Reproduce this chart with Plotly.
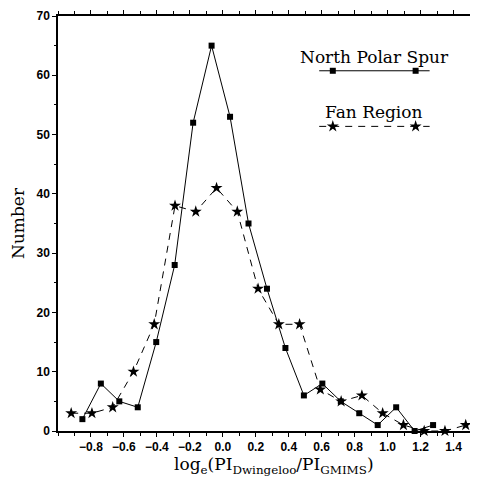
import plotly.graph_objects as go

# ---- data ----
nps_x = [-0.852, -0.740, -0.628, -0.516, -0.404, -0.292, -0.180, -0.068, 0.044, 0.156,
         0.268, 0.380, 0.492, 0.604, 0.716, 0.828, 0.940, 1.052, 1.164, 1.276]
nps_y = [2, 8, 5, 4, 15, 28, 52, 65, 53, 35, 24, 14, 6, 8, 5, 3, 1, 4, 0, 1]

fan_x = [-0.920, -0.794, -0.668, -0.542, -0.416, -0.290, -0.164, -0.038, 0.088, 0.214,
         0.340, 0.466, 0.592, 0.718, 0.844, 0.970, 1.096, 1.222, 1.348, 1.474]
fan_y = [3, 3, 4, 10, 18, 38, 37, 41, 37, 24, 18, 18, 7, 5, 6, 3, 1, 0, 0, 1]

x_tickvals = [-0.8, -0.6, -0.4, -0.2, 0.0, 0.2, 0.4, 0.6, 0.8, 1.0, 1.2, 1.4]
x_ticklabels = ["\u22120.8", "\u22120.6", "\u22120.4", "\u22120.2", "0.0", "0.2", "0.4",
                "0.6", "0.8", "1.0", "1.2", "1.4"]
y_tickvals = [0, 10, 20, 30, 40, 50, 60, 70]
y_ticklabels = ["0", "10", "20", "30", "40", "50", "60", "70"]

series_names = ["North Polar Spur", "Fan Region"]
x_title = "log<sub>e</sub>(PI<sub>Dwingeloo</sub>/PI<sub>GMIMS</sub>)"
y_title = "Number"

# ---- styles ----
SERIF = "DejaVu Serif"
TICKFONT = dict(family="Liberation Sans", size=12, color="black")
DASH = "7px,6px"
SQ_SIZE = 6
STAR_SIZE = 9

fig = go.Figure()

fig.add_trace(go.Scatter(
    x=nps_x, y=nps_y, mode="lines+markers", name=series_names[0],
    line=dict(color="black", width=1),
    marker=dict(symbol="square", size=SQ_SIZE, color="black"),
    showlegend=False, cliponaxis=False))

fig.add_trace(go.Scatter(
    x=fan_x, y=fan_y, mode="lines+markers", name=series_names[1],
    line=dict(color="black", width=1, dash=DASH),
    marker=dict(symbol="star", size=STAR_SIZE, color="black"),
    showlegend=False, cliponaxis=False))

# ---- hand-drawn legend on an overlay axis in [0,1] units ----
leg_line_x = [0.634, 0.902]
leg_mark_x = [0.667, 0.868]
leg_y = [0.868, 0.734]
leg_text_y = [0.902, 0.768]
leg_text_x = 0.768

fig.add_trace(go.Scatter(
    x=leg_line_x, y=[leg_y[0]] * 2, xaxis="x2", yaxis="y2", mode="lines",
    line=dict(color="black", width=1), showlegend=False, hoverinfo="skip"))
fig.add_trace(go.Scatter(
    x=leg_mark_x, y=[leg_y[0]] * 2, xaxis="x2", yaxis="y2", mode="markers",
    marker=dict(symbol="square", size=SQ_SIZE, color="black"), showlegend=False, hoverinfo="skip"))
fig.add_trace(go.Scatter(
    x=leg_line_x, y=[leg_y[1]] * 2, xaxis="x2", yaxis="y2", mode="lines",
    line=dict(color="black", width=1, dash=DASH), showlegend=False, hoverinfo="skip"))
fig.add_trace(go.Scatter(
    x=leg_mark_x, y=[leg_y[1]] * 2, xaxis="x2", yaxis="y2", mode="markers",
    marker=dict(symbol="star", size=STAR_SIZE, color="black"), showlegend=False, hoverinfo="skip"))

for name, ty in zip(series_names, leg_text_y):
    fig.add_annotation(x=leg_text_x, y=ty, xref="x2", yref="y2", text=name,
                       showarrow=False, xanchor="center", yanchor="middle",
                       font=dict(family=SERIF, size=17, color="black"))

# x-axis title (sits slightly right of the plot centre in the reference)
fig.add_annotation(x=0.524, y=-0.084, xref="paper", yref="paper", text=x_title,
                   showarrow=False, xanchor="center", yanchor="middle",
                   font=dict(family=SERIF, size=17, color="black"))

axis_common = dict(
    showline=True, linecolor="black", linewidth=1.5, mirror="ticks",
    ticks="outside", ticklen=4, tickwidth=1, tickcolor="black",
    showgrid=False, zeroline=False, tickfont=TICKFONT)

# the page body has an 8px default margin, so the figure is 8px smaller
fig.update_layout(
    width=470, height=478,
    margin=dict(l=50, r=2, t=5, b=55),
    paper_bgcolor="white", plot_bgcolor="white",
    xaxis=dict(range=[-1.0, 1.5], tickmode="array", tickvals=x_tickvals,
               ticktext=["<b>%s</b>" % t for t in x_ticklabels],
               minor=dict(dtick=0.1, tick0=0, ticks="outside", ticklen=3,
                          tickcolor="black", showgrid=False),
               **axis_common),
    yaxis=dict(range=[0, 70], tickmode="array", tickvals=y_tickvals,
               ticktext=["<b>%s</b>" % t for t in y_ticklabels],
               minor=dict(dtick=5, tick0=0, ticks="outside", ticklen=2,
                          tickcolor="black", showgrid=False),
               title=dict(text=y_title, font=dict(family=SERIF, size=17, color="black"),
                          standoff=12),
               **axis_common),
    xaxis2=dict(range=[0, 1], overlaying="x", visible=False, fixedrange=True),
    yaxis2=dict(range=[0, 1], overlaying="y", visible=False, fixedrange=True),
)

fig.write_html("out.html")
